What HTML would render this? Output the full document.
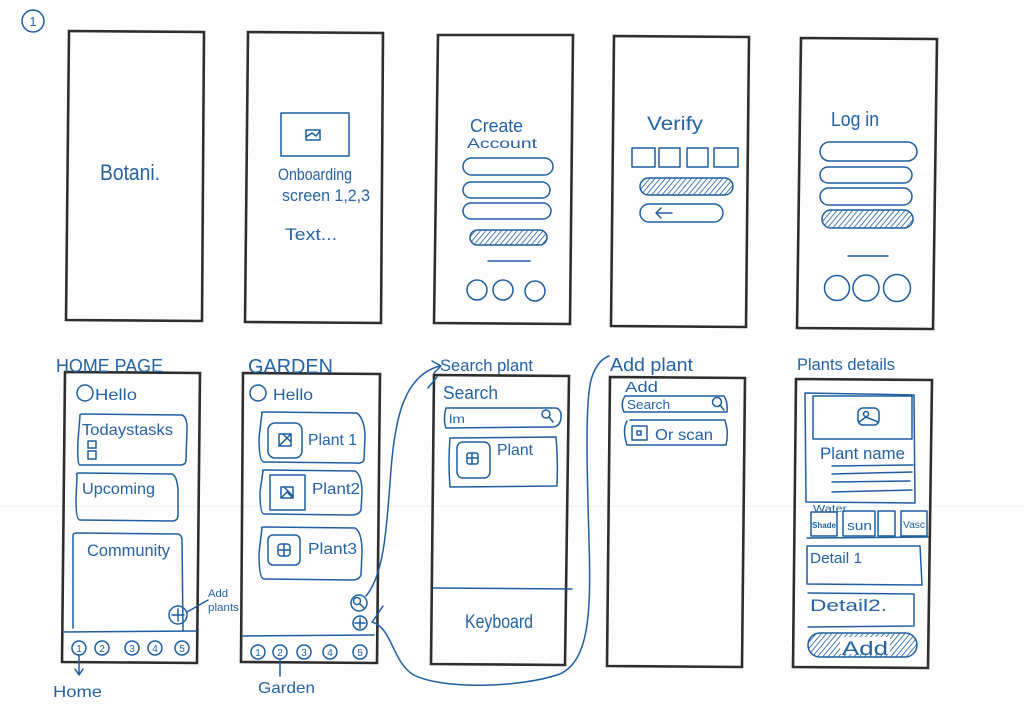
<!DOCTYPE html>
<html><head><meta charset="utf-8"><style>
html,body{margin:0;padding:0;background:#fdfdfd;}
svg{display:block;}
text{font-family:"Liberation Sans",sans-serif;fill:#2563a3;}
</style></head><body>
<svg width="1024" height="724" viewBox="0 0 1024 724" xmlns="http://www.w3.org/2000/svg">
<defs>
<pattern id="h" patternUnits="userSpaceOnUse" width="4" height="4" patternTransform="rotate(40)">
<line x1="0" y1="0" x2="0" y2="4" stroke="#1f5f9f" stroke-width="1.6"/>
</pattern>
</defs>
<rect width="1024" height="724" fill="#fdfdfd"/>
<line x1="0" y1="506" x2="1024" y2="506" stroke="#f1f1f1" stroke-width="1"/>

<!-- frames -->
<g fill="none" stroke="#2e2e2e" stroke-width="2.6" stroke-linejoin="miter">
<polygon points="69,31 204,32 202,321 66,320"/>
<polygon points="248,32 383,33 381,323 245,322"/>
<polygon points="438,35 573,35 570,324 434,323"/>
<polygon points="614,36 749,37 746,327 611,326"/>
<polygon points="801,38 937,39 933,329 797,328"/>
<polygon points="65,372 200,373 197,663 62,662"/>
<polygon points="243,373 380,374 377,663 241,662"/>
<polygon points="434,375 569,376 565,665 431,664"/>
<polygon points="610,377 745,378 742,667 607,666"/>
<polygon points="796,379 932,380 928,668 793,667"/>
</g>

<g fill="none" stroke="#1f5f9f" stroke-width="1.5" stroke-linecap="round" stroke-linejoin="round">
<circle cx="33" cy="21" r="11"/>

<rect x="281" y="113" width="68" height="43"/>
<rect x="306" y="130" width="14" height="10"/>
<path d="M306 137 L312 133 L316 136 L320 131"/>

<rect x="463" y="158" width="90" height="17" rx="8.5"/>
<rect x="463" y="182" width="87" height="16" rx="8"/>
<rect x="463" y="203" width="88" height="16" rx="8"/>
<line x1="488" y1="261" x2="530" y2="261"/>
<circle cx="477" cy="290" r="10"/>
<circle cx="503" cy="290" r="10"/>
<circle cx="535" cy="291" r="10"/>

<rect x="632" y="148" width="23" height="19"/>
<rect x="659" y="148" width="21" height="19"/>
<rect x="687" y="148" width="21" height="19"/>
<rect x="714" y="148" width="24" height="19"/>
<rect x="640" y="204" width="83" height="18" rx="9"/>
<path d="M656 213 L672 213 M661 208 L656 213 L661 218"/>

<rect x="820" y="142" width="97" height="19" rx="9.5"/>
<rect x="820" y="167" width="92" height="16" rx="8"/>
<rect x="820" y="188" width="92" height="17" rx="8.5"/>
<line x1="848" y1="256" x2="888" y2="256"/>
<circle cx="837" cy="288" r="12.5"/>
<circle cx="866" cy="288" r="13"/>
<circle cx="897" cy="288" r="13.5"/>

<circle cx="85" cy="393" r="8"/>
<path d="M80 416 Q79 414 84 414 L182 415 Q187 417 187 428 L186 460 Q186 465 180 465 L80 465 Q77 465 78 440 Z"/>
<rect x="88" y="441" width="8" height="7"/>
<rect x="88" y="451" width="8" height="8"/>
<path d="M77 475 Q75 473 80 473 L172 474 Q177 476 178 490 L178 515 Q178 521 172 521 L80 520 Q76 520 76 500 Z"/>
<path d="M73 628 L73 535 Q73 533 78 533 L178 534 Q182 535 182 540 L183 630"/>
<circle cx="178" cy="615" r="9"/>
<path d="M178 609 L178 621 M172 615 L184 615"/>
<line x1="187" y1="612" x2="208" y2="600"/>
<line x1="63" y1="632" x2="197" y2="631"/>
<circle cx="79" cy="648" r="7"/>
<circle cx="102" cy="648" r="7"/>
<circle cx="132" cy="648" r="7"/>
<circle cx="155" cy="648" r="7"/>
<circle cx="182" cy="648" r="7"/>
<path d="M79 656 L79 674 M75 669 L79 675 L83 669"/>

<circle cx="258" cy="393" r="8"/>
<path d="M262 413 Q260 412 266 412 L357 413 Q365 420 365 437 L364 460 Q362 464 355 463 L264 462 Q259 462 259 438 Z"/>
<rect x="268" y="423" width="34" height="35" rx="7"/>
<rect x="279" y="434" width="12" height="12"/>
<path d="M279 446 L291 434 M283 434 L291 442"/>
<path d="M263 471 Q261 470 266 470 L355 471 Q362 475 362 493 L361 510 Q359 515 352 515 L264 514 Q260 514 260 492 Z"/>
<rect x="270" y="475" width="35" height="35"/>
<rect x="281" y="487" width="12" height="11"/>
<path d="M281 498 L287 492 L293 498 M284 487 L293 496"/>
<path d="M262 528 Q260 527 266 527 L355 528 Q362 532 362 552 L361 575 Q359 580 352 580 L264 579 Q259 579 259 553 Z"/>
<rect x="268" y="535" width="32" height="30" rx="5"/>
<rect x="278" y="544" width="12" height="12" rx="3"/>
<path d="M278 550 L290 550 M284 544 L284 556"/>
<circle cx="359" cy="603" r="8"/>
<circle cx="357" cy="601" r="3.5"/>
<line x1="360" y1="604" x2="364" y2="608"/>
<circle cx="360" cy="623" r="7"/>
<path d="M360 618 L360 628 M355 623 L365 623"/>
<line x1="242" y1="636" x2="374" y2="635"/>
<circle cx="258" cy="652" r="7"/>
<circle cx="280" cy="652" r="7"/>
<circle cx="304" cy="652" r="7"/>
<circle cx="330" cy="652" r="7"/>
<circle cx="360" cy="652" r="7"/>
<line x1="280" y1="659" x2="280" y2="676"/>

<path d="M366 596 C392 565 386 480 396 430 C402 395 416 372 440 366"/>
<path d="M432 361 L441 366 L434 373"/>
<path d="M428 388 L437 377"/>
<path d="M372 622 C392 628 392 660 412 674 C440 690 520 688 560 674 C590 660 591 610 589 540 C587 470 585 405 591 380 C595 366 601 359 609 356"/>
<path d="M383 606 L373 621"/>

<path d="M446 408 L556 408 Q562 410 561 418 Q560 427 552 427 L446 428 Q443 420 446 408 Z"/>
<circle cx="546" cy="414" r="4"/>
<line x1="549" y1="417" x2="553" y2="422"/>
<path d="M450 438 L556 437 Q558 460 557 486 L450 487 Q448 462 450 438 Z"/>
<rect x="457" y="442" width="33" height="36" rx="6"/>
<rect x="467" y="453" width="11" height="11" rx="2"/>
<path d="M467 458 L478 458 M472 453 L472 464"/>
<line x1="433" y1="588" x2="572" y2="589"/>

<path d="M625 396 L724 396 Q728 402 727 412 L624 412 Q620 404 625 396 Z"/>
<circle cx="717" cy="402" r="4.5"/>
<line x1="720" y1="405" x2="724" y2="410"/>
<path d="M627 421 Q622 430 627 445 L726 445 Q729 432 725 421"/>
<line x1="630" y1="420" x2="725" y2="420"/>
<rect x="632" y="426" width="15" height="14"/>
<rect x="637" y="431" width="4" height="4"/>

<path d="M805 393 L914 395 L915 503 L806 502 Z"/>
<rect x="813" y="396" width="99" height="43"/>
<rect x="858" y="408" width="21" height="17" rx="5"/>
<circle cx="866" cy="414" r="2.5"/>
<path d="M859 422 L866 417 L878 422"/>
<line x1="832" y1="466" x2="913" y2="465"/>
<line x1="832" y1="474" x2="912" y2="472"/>
<line x1="832" y1="482" x2="910" y2="481"/>
<line x1="832" y1="492" x2="912" y2="490"/>
<rect x="811" y="512" width="26" height="24"/>
<rect x="843" y="511" width="32" height="25"/>
<rect x="878" y="511" width="17" height="25"/>
<rect x="901" y="511" width="26" height="25"/>
<line x1="807" y1="538" x2="928" y2="537"/>
<path d="M807 546 L920 546 L922 585 L807 584 Z"/>
<path d="M808 593 L914 594 L914 626 L808 627"/>
</g>

<g stroke="#1f5f9f" stroke-width="1.5">
<rect x="470" y="230" width="77" height="15" rx="7.5" fill="url(#h)"/>
<rect x="640" y="178" width="93" height="17" rx="8.5" fill="url(#h)"/>
<rect x="822" y="210" width="91" height="18" rx="9" fill="url(#h)"/>
<rect x="808" y="633" width="109" height="24" rx="12" fill="url(#h)"/>
</g>
<rect x="840" y="637" width="50" height="17" fill="#fdfdfd"/>

<text x="33" y="26" font-size="13" text-anchor="middle">1</text>
<text x="100" y="180" font-size="22" textLength="60" lengthAdjust="spacingAndGlyphs">Botani.</text>
<text x="278" y="180" font-size="17" textLength="74" lengthAdjust="spacingAndGlyphs">Onboarding</text>
<text x="282" y="201" font-size="17" textLength="88" lengthAdjust="spacingAndGlyphs">screen 1,2,3</text>
<text x="285" y="240" font-size="17" textLength="52" lengthAdjust="spacingAndGlyphs">Text...</text>
<text x="470" y="132" font-size="18" textLength="53" lengthAdjust="spacingAndGlyphs">Create</text>
<text x="467" y="148" font-size="14" textLength="70" lengthAdjust="spacingAndGlyphs">Account</text>
<text x="647" y="130" font-size="19" textLength="56" lengthAdjust="spacingAndGlyphs">Verify</text>
<text x="831" y="126" font-size="20" textLength="48" lengthAdjust="spacingAndGlyphs">Log in</text>

<text x="56" y="372" font-size="18" textLength="107" lengthAdjust="spacingAndGlyphs">HOME PAGE</text>
<text x="95" y="400" font-size="16" textLength="42" lengthAdjust="spacingAndGlyphs">Hello</text>
<text x="82" y="435" font-size="16" textLength="91" lengthAdjust="spacingAndGlyphs">Todaystasks</text>
<text x="82" y="494" font-size="16" textLength="73" lengthAdjust="spacingAndGlyphs">Upcoming</text>
<text x="87" y="556" font-size="17" textLength="83" lengthAdjust="spacingAndGlyphs">Community</text>
<text x="208" y="597" font-size="11" textLength="20" lengthAdjust="spacingAndGlyphs">Add</text>
<text x="208" y="611" font-size="11" textLength="31" lengthAdjust="spacingAndGlyphs">plants</text>
<g font-size="10" text-anchor="middle">
<text x="79" y="652">1</text><text x="102" y="652">2</text><text x="132" y="652">3</text><text x="155" y="652">4</text><text x="182" y="652">5</text>
<text x="258" y="656">1</text><text x="280" y="656">2</text><text x="304" y="656">3</text><text x="330" y="656">4</text><text x="360" y="656">5</text>
</g>
<text x="53" y="697" font-size="16" textLength="49" lengthAdjust="spacingAndGlyphs">Home</text>

<text x="248" y="373" font-size="20" textLength="85" lengthAdjust="spacingAndGlyphs">GARDEN</text>
<text x="273" y="400" font-size="16" textLength="40" lengthAdjust="spacingAndGlyphs">Hello</text>
<text x="308" y="445" font-size="16" textLength="49" lengthAdjust="spacingAndGlyphs">Plant 1</text>
<text x="312" y="494" font-size="16" textLength="48" lengthAdjust="spacingAndGlyphs">Plant2</text>
<text x="308" y="554" font-size="16" textLength="49" lengthAdjust="spacingAndGlyphs">Plant3</text>
<text x="258" y="693" font-size="16" textLength="57" lengthAdjust="spacingAndGlyphs">Garden</text>

<text x="440" y="371" font-size="17" textLength="93" lengthAdjust="spacingAndGlyphs">Search plant</text>
<text x="443" y="399" font-size="18" textLength="55" lengthAdjust="spacingAndGlyphs">Search</text>
<text x="449" y="423" font-size="12" textLength="16" lengthAdjust="spacingAndGlyphs">lm</text>
<text x="497" y="455" font-size="16" textLength="36" lengthAdjust="spacingAndGlyphs">Plant</text>
<text x="465" y="628" font-size="19" textLength="68" lengthAdjust="spacingAndGlyphs">Keyboard</text>

<text x="610" y="371" font-size="18" textLength="83" lengthAdjust="spacingAndGlyphs">Add plant</text>
<text x="625" y="392" font-size="15" textLength="33" lengthAdjust="spacingAndGlyphs">Add</text>
<text x="627" y="409" font-size="13" textLength="43" lengthAdjust="spacingAndGlyphs">Search</text>
<text x="655" y="440" font-size="16" textLength="58" lengthAdjust="spacingAndGlyphs">Or scan</text>

<text x="797" y="370" font-size="17" textLength="98" lengthAdjust="spacingAndGlyphs">Plants details</text>
<text x="820" y="459" font-size="17" textLength="85" lengthAdjust="spacingAndGlyphs">Plant name</text>
<text x="813" y="512" font-size="10" textLength="34" lengthAdjust="spacingAndGlyphs">Water</text>
<text x="812" y="528" font-size="8" font-weight="bold" textLength="24" lengthAdjust="spacingAndGlyphs">Shade</text>
<text x="847" y="530" font-size="13" textLength="25" lengthAdjust="spacingAndGlyphs">sun</text>
<text x="903" y="528" font-size="10" textLength="22" lengthAdjust="spacingAndGlyphs">Vasc</text>
<text x="810" y="563" font-size="15" textLength="52" lengthAdjust="spacingAndGlyphs">Detail 1</text>
<text x="810" y="611" font-size="17" textLength="77" lengthAdjust="spacingAndGlyphs">Detail2.</text>
<text x="842" y="655" font-size="19" textLength="46" lengthAdjust="spacingAndGlyphs">Add</text>
</svg>
</body></html>
